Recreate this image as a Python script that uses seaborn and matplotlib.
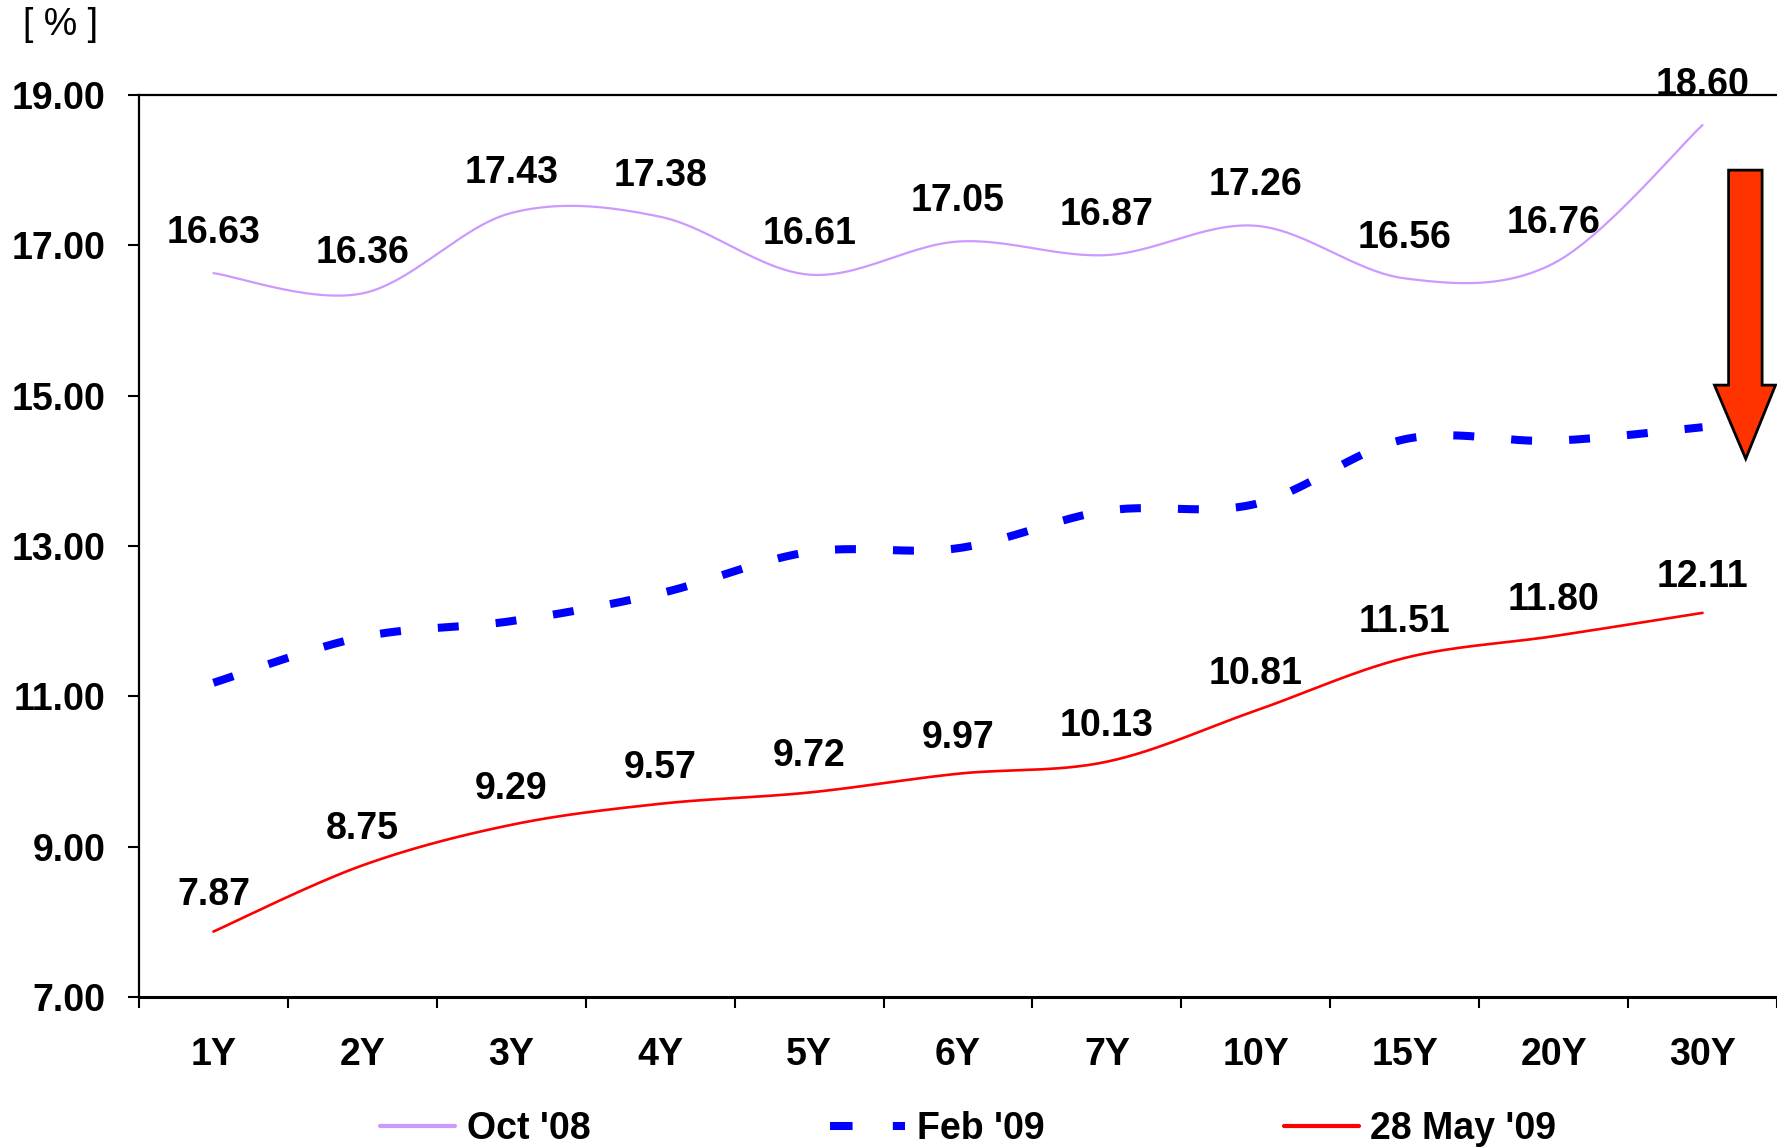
import numpy as np
import pandas as pd
import matplotlib
matplotlib.use("Agg")
import matplotlib.pyplot as plt
from matplotlib.patches import Polygon
from matplotlib.lines import Line2D
import seaborn as sns

categories = ["1Y", "2Y", "3Y", "4Y", "5Y", "6Y", "7Y", "10Y", "15Y", "20Y", "30Y"]
oct08 = [16.63, 16.36, 17.43, 17.38, 16.61, 17.05, 16.87, 17.26, 16.56, 16.76, 18.60]
feb09 = [11.18, 11.79, 12.00, 12.37, 12.92, 12.97, 13.47, 13.56, 14.42, 14.40, 14.58]
may09 = [7.87, 8.75, 9.29, 9.57, 9.72, 9.97, 10.13, 10.81, 11.51, 11.80, 12.11]
y_ticks = [7, 9, 11, 13, 15, 17, 19]

sns.set_theme(style="white")
plt.rcParams["font.family"] = ["Liberation Sans", "DejaVu Sans"]
plt.rcParams["text.color"] = "black"
plt.rcParams["xtick.color"] = "black"
plt.rcParams["ytick.color"] = "black"
plt.rcParams["axes.labelcolor"] = "black"

FS = 27


def smooth(xs, ys, n=30):
    # Excel-style smoothed line (Catmull-Rom Bezier) drawn through the data points
    P = np.column_stack([xs, ys]).astype(float)
    m = len(P)
    out = []
    for i in range(m - 1):
        p0 = P[i - 1] if i > 0 else P[i]
        p1 = P[i]
        p2 = P[i + 1]
        p3 = P[i + 2] if i + 2 < m else P[i + 1]
        c1 = p1 + (p2 - p0) / 6.0
        c2 = p2 - (p3 - p1) / 6.0
        t = np.linspace(0, 1, n, endpoint=(i == m - 2))[:, None]
        b = ((1 - t) ** 3) * p1 + 3 * ((1 - t) ** 2) * t * c1 + 3 * (1 - t) * t ** 2 * c2 + t ** 3 * p2
        out.append(b)
    out = np.vstack(out)
    return out[:, 0], out[:, 1]


fig = plt.figure(figsize=(17.77, 11.47), dpi=100)
ax = fig.add_axes([0.0782, 0.1308, 0.9218, 0.7864])

xidx = np.arange(len(categories))
series = [
    ("Oct '08", oct08, "#CC99FF", 1.6, None),
    ("Feb '09", feb09, "#0000FF", 5.8, (2.6, 4.6)),
    ("28 May '09", may09, "#FF0000", 1.9, None),
]
handles = []
for name, vals, col, lw, dash in series:
    sx, sy = smooth(xidx, vals)
    df = pd.DataFrame({"x": sx, "y": sy})
    sns.lineplot(data=df, x="x", y="y", ax=ax, sort=False, estimator=None,
                 color=col, linewidth=lw, legend=False)
    ln = ax.lines[-1]
    if dash is not None:
        ln.set_dashes(dash)
        ln.set_dash_capstyle("butt")
        h = Line2D([0], [0], color=col, linewidth=5.8)
        h.set_dashes((2.8, 5.0))
        h.set_dash_capstyle("butt")
    else:
        h = Line2D([0], [0], color=col, linewidth=3)
    handles.append(h)

for i, v in enumerate(oct08):
    ax.annotate(f"{v:.2f}", (i, v), xytext=(0, 29), textcoords="offset points",
                ha="center", va="center", fontsize=FS, fontweight="bold", color="black",
                annotation_clip=False)
for i, v in enumerate(may09):
    ax.annotate(f"{v:.2f}", (i, v), xytext=(0, 26), textcoords="offset points",
                ha="center", va="center", fontsize=FS, fontweight="bold", color="black",
                annotation_clip=False)

ax.set_xlim(-0.5, len(categories) - 0.5)
ax.set_ylim(7, 19)
ax.set_xticks(xidx)
ax.set_xticklabels(categories, fontsize=FS, fontweight="bold", color="black")
ax.set_xticks(np.arange(-0.5, len(categories), 1.0), minor=True)
ax.tick_params(axis="x", which="major", length=0, pad=29)
ax.tick_params(axis="x", which="minor", length=8, width=1.5, direction="out", color="black", bottom=True)
ax.set_yticks(y_ticks)
ax.set_yticklabels([f"{t:.2f}" for t in y_ticks], fontsize=FS, fontweight="bold", color="black")
ax.tick_params(axis="y", which="major", length=8, width=1.5, direction="out", color="black", left=True, pad=16)
ax.set_xlabel("")
ax.set_ylabel("")
for s in ["left", "bottom", "top"]:
    ax.spines[s].set_visible(True)
    ax.spines[s].set_color("black")
    ax.spines[s].set_linewidth(1.6)
ax.spines["bottom"].set_linewidth(2.2)
ax.spines["right"].set_visible(False)
ax.grid(False)

# red downward arrow
arrow = Polygon([(10.175, 18.0), (10.40, 18.0), (10.40, 15.14), (10.49, 15.14),
                 (10.29, 14.16), (10.08, 15.14), (10.175, 15.14)],
                closed=True, facecolor="#FF3300", edgecolor="black", linewidth=2,
                clip_on=False, zorder=5)
ax.add_patch(arrow)

fig.text(0.034, 0.978, "[ % ]", fontsize=FS, ha="center", va="center", color="black")

leg = fig.legend(handles, [s[0] for s in series], loc="center", bbox_to_anchor=(0.545, 0.016),
                 ncol=3, frameon=False, handlelength=2.0, handletextpad=0.3,
                 columnspacing=6.4, prop={"size": FS, "weight": "bold"})
for t in leg.get_texts():
    t.set_color("black")

fig.savefig("out.png", dpi=100)
